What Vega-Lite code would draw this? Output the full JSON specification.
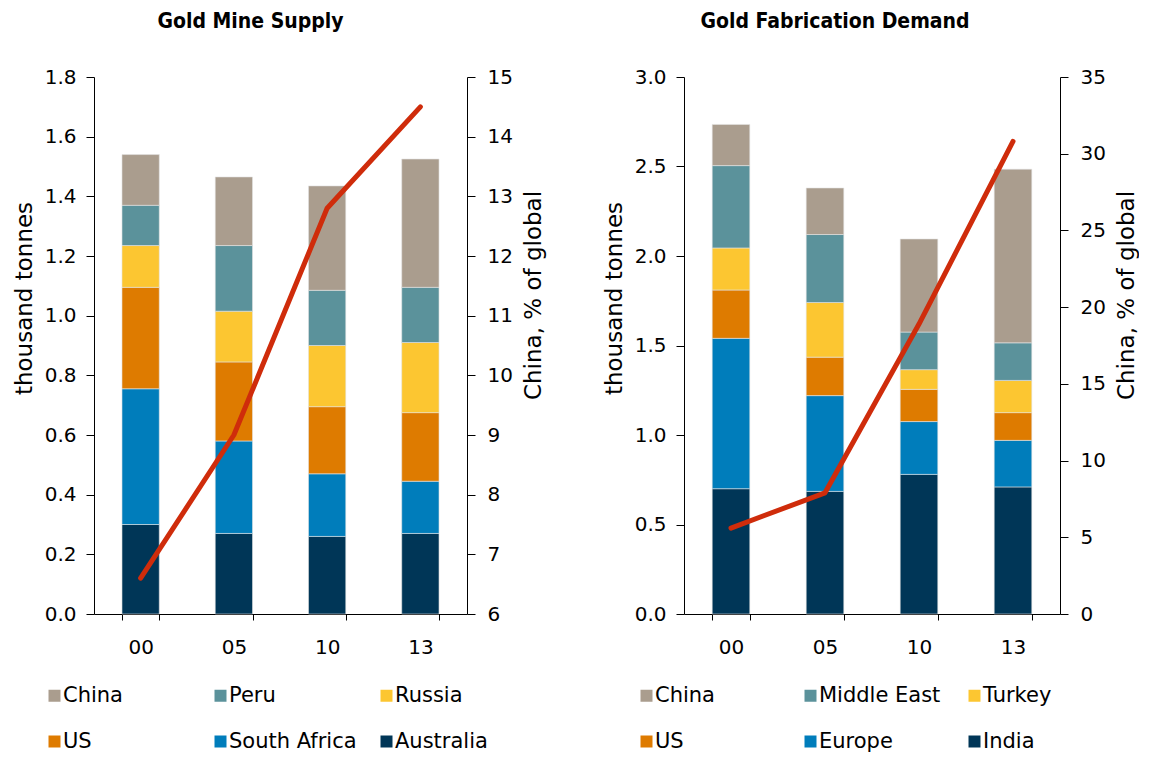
{
  "$schema": "https://vega.github.io/schema/vega-lite/v6.json",
  "padding": {"left": 13, "top": 11, "right": 0, "bottom": 0},
  "background": "white",
  "config": {
    "font": "DejaVu Sans",
    "view": {"stroke": null},
    "concat": {"spacing": 57},
    "axis": {
      "domainColor": "black", "tickColor": "black", "labelColor": "black", "titleColor": "black",
      "labelFontSize": 20, "titleFontSize": 23, "titleFontWeight": "normal", "grid": false,
      "domainWidth": 1, "tickWidth": 1
    },
    "legend": {"labelColor": "black"},
    "title": {"color": "black"}
  },
  "datasets": {
    "mine": [
      {"year": "00", "country": "Australia", "value": 0.30},
      {"year": "00", "country": "South Africa", "value": 0.455},
      {"year": "00", "country": "US", "value": 0.34},
      {"year": "00", "country": "Russia", "value": 0.14},
      {"year": "00", "country": "Peru", "value": 0.135},
      {"year": "00", "country": "China", "value": 0.17},
      {"year": "05", "country": "Australia", "value": 0.27},
      {"year": "05", "country": "South Africa", "value": 0.31},
      {"year": "05", "country": "US", "value": 0.265},
      {"year": "05", "country": "Russia", "value": 0.17},
      {"year": "05", "country": "Peru", "value": 0.22},
      {"year": "05", "country": "China", "value": 0.23},
      {"year": "10", "country": "Australia", "value": 0.26},
      {"year": "10", "country": "South Africa", "value": 0.21},
      {"year": "10", "country": "US", "value": 0.225},
      {"year": "10", "country": "Russia", "value": 0.205},
      {"year": "10", "country": "Peru", "value": 0.185},
      {"year": "10", "country": "China", "value": 0.35},
      {"year": "13", "country": "Australia", "value": 0.27},
      {"year": "13", "country": "South Africa", "value": 0.175},
      {"year": "13", "country": "US", "value": 0.23},
      {"year": "13", "country": "Russia", "value": 0.235},
      {"year": "13", "country": "Peru", "value": 0.185},
      {"year": "13", "country": "China", "value": 0.43}
    ],
    "mineShare": [
      {"year": "00", "share": 6.6},
      {"year": "05", "share": 9.0},
      {"year": "10", "share": 12.8},
      {"year": "13", "share": 14.5}
    ],
    "fab": [
      {"year": "00", "country": "India", "value": 0.70},
      {"year": "00", "country": "Europe", "value": 0.84},
      {"year": "00", "country": "US", "value": 0.27},
      {"year": "00", "country": "Turkey", "value": 0.235},
      {"year": "00", "country": "Middle East", "value": 0.46},
      {"year": "00", "country": "China", "value": 0.23},
      {"year": "05", "country": "India", "value": 0.685},
      {"year": "05", "country": "Europe", "value": 0.535},
      {"year": "05", "country": "US", "value": 0.215},
      {"year": "05", "country": "Turkey", "value": 0.305},
      {"year": "05", "country": "Middle East", "value": 0.38},
      {"year": "05", "country": "China", "value": 0.26},
      {"year": "10", "country": "India", "value": 0.78},
      {"year": "10", "country": "Europe", "value": 0.295},
      {"year": "10", "country": "US", "value": 0.18},
      {"year": "10", "country": "Turkey", "value": 0.11},
      {"year": "10", "country": "Middle East", "value": 0.21},
      {"year": "10", "country": "China", "value": 0.52},
      {"year": "13", "country": "India", "value": 0.71},
      {"year": "13", "country": "Europe", "value": 0.26},
      {"year": "13", "country": "US", "value": 0.155},
      {"year": "13", "country": "Turkey", "value": 0.18},
      {"year": "13", "country": "Middle East", "value": 0.21},
      {"year": "13", "country": "China", "value": 0.97}
    ],
    "fabShare": [
      {"year": "00", "share": 5.6},
      {"year": "05", "share": 7.9},
      {"year": "10", "share": 18.9},
      {"year": "13", "share": 30.8}
    ]
  },
  "hconcat": [
    {
      "width": 373,
      "height": 537,
      "title": {"text": "Gold Mine Supply", "font": "DejaVu Sans Condensed", "fontSize": 21, "fontWeight": "bold", "dx": -30, "offset": 35},
      "layer": [
        {
          "data": {"name": "mine"},
          "transform": [{"window": [{"op": "row_number", "as": "stackIdx"}], "groupby": ["year"]}],
          "mark": {"type": "bar", "stroke": "#e4e4e4", "strokeWidth": 0.6},
          "encoding": {
            "x": {"field": "year", "type": "nominal", "scale": {"paddingInner": 0.6, "paddingOuter": 0.3},
                  "axis": {"title": null, "labelAngle": 0, "tickBand": "extent", "tickSize": 6, "labelPadding": 17}},
            "y": {"field": "value", "type": "quantitative", "aggregate": "sum", "stack": "zero",
                  "scale": {"domain": [0, 1.8], "nice": false},
                  "axis": {"title": "thousand tonnes", "values": [0, 0.2, 0.4, 0.6, 0.8, 1.0, 1.2, 1.4, 1.6, 1.8],
                           "format": ".1f", "tickSize": 8, "labelPadding": 10, "titlePadding": 8, "titleY": 221}},
            "order": {"field": "stackIdx", "type": "quantitative", "sort": "ascending"},
            "color": {"field": "country", "type": "nominal",
                      "scale": {"domain": ["China", "Peru", "Russia", "US", "South Africa", "Australia"],
                                "range": ["#aa9d8e", "#5b929b", "#fcc631", "#de7b00", "#007dbb", "#003657"]},
                      "legend": {"title": null, "orient": "none", "legendX": -50, "legendY": 608,
                                 "direction": "horizontal", "columns": 3, "gridAlign": "all",
                                 "columnPadding": 19, "rowPadding": 24, "symbolType": "square",
                                 "symbolSize": 144, "symbolStrokeWidth": 0, "labelFontSize": 21, "labelOffset": -2}}
          }
        },
        {
          "data": {"name": "mineShare"},
          "mark": {"type": "line", "color": "#cf2c0b", "strokeWidth": 5, "strokeCap": "round", "strokeJoin": "round"},
          "encoding": {
            "x": {"field": "year", "type": "nominal"},
            "y": {"field": "share", "type": "quantitative",
                  "scale": {"domain": [6, 15], "nice": false, "zero": false},
                  "axis": {"orient": "right", "title": "China, % of global", "values": [6, 7, 8, 9, 10, 11, 12, 13, 14, 15],
                           "tickSize": 8, "labelPadding": 12, "titlePadding": 10, "titleAngle": 270, "titleBaseline": "top", "titleY": 218}}
          }
        }
      ],
      "resolve": {"scale": {"y": "independent"}}
    },
    {
      "width": 376,
      "height": 537,
      "title": {"text": "Gold Fabrication Demand", "font": "DejaVu Sans Condensed", "fontSize": 21, "fontWeight": "bold", "dx": -37, "offset": 35},
      "layer": [
        {
          "data": {"name": "fab"},
          "transform": [{"window": [{"op": "row_number", "as": "stackIdx"}], "groupby": ["year"]}],
          "mark": {"type": "bar", "stroke": "#e4e4e4", "strokeWidth": 0.6},
          "encoding": {
            "x": {"field": "year", "type": "nominal", "scale": {"paddingInner": 0.6, "paddingOuter": 0.3},
                  "axis": {"title": null, "labelAngle": 0, "tickBand": "extent", "tickSize": 6, "labelPadding": 17}},
            "y": {"field": "value", "type": "quantitative", "aggregate": "sum", "stack": "zero",
                  "scale": {"domain": [0, 3.0], "nice": false},
                  "axis": {"title": "thousand tonnes", "values": [0, 0.5, 1.0, 1.5, 2.0, 2.5, 3.0],
                           "format": ".1f", "tickSize": 8, "labelPadding": 10, "titlePadding": 8, "titleY": 221}},
            "order": {"field": "stackIdx", "type": "quantitative", "sort": "ascending"},
            "color": {"field": "country", "type": "nominal",
                      "scale": {"domain": ["China", "Middle East", "Turkey", "US", "Europe", "India"],
                                "range": ["#aa9d8e", "#5b929b", "#fcc631", "#de7b00", "#007dbb", "#003657"]},
                      "legend": {"title": null, "orient": "none", "legendX": -48, "legendY": 608,
                                 "direction": "horizontal", "columns": 3, "gridAlign": "all",
                                 "columnPadding": 23, "rowPadding": 24, "symbolType": "square",
                                 "symbolSize": 144, "symbolStrokeWidth": 0, "labelFontSize": 21, "labelOffset": -2}}
          }
        },
        {
          "data": {"name": "fabShare"},
          "mark": {"type": "line", "color": "#cf2c0b", "strokeWidth": 5, "strokeCap": "round", "strokeJoin": "round"},
          "encoding": {
            "x": {"field": "year", "type": "nominal"},
            "y": {"field": "share", "type": "quantitative",
                  "scale": {"domain": [0, 35], "nice": false},
                  "axis": {"orient": "right", "title": "China, % of global", "values": [0, 5, 10, 15, 20, 25, 30, 35],
                           "tickSize": 8, "labelPadding": 12, "titlePadding": 10, "titleAngle": 270, "titleBaseline": "top", "titleY": 218}}
          }
        }
      ],
      "resolve": {"scale": {"y": "independent"}}
    }
  ],
  "resolve": {"scale": {"color": "independent"}, "legend": {"color": "independent"}}
}
